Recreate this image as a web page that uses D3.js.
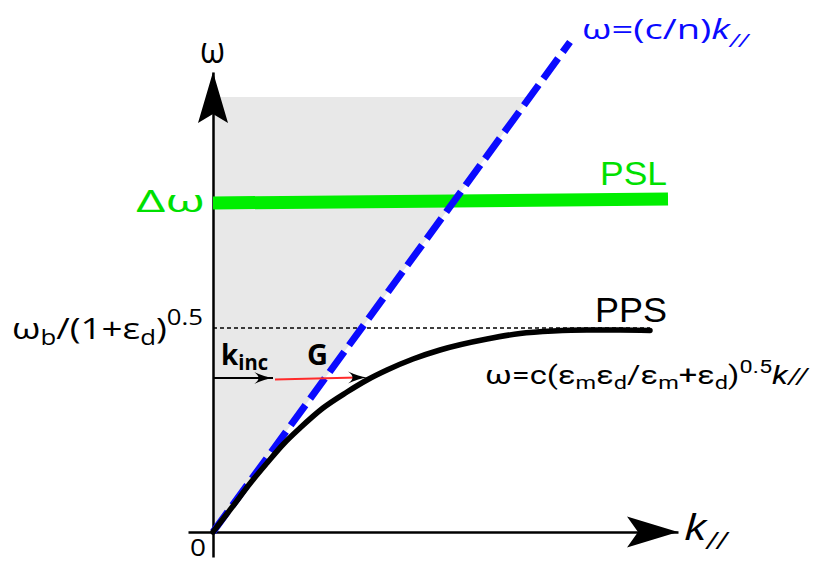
<!DOCTYPE html>
<html><head><meta charset="utf-8">
<script src="https://cdn.jsdelivr.net/npm/d3@7"></script>
<style>body{margin:0;background:#fff}svg{display:block}</style>
</head><body><svg id="c" width="816" height="563"></svg>
<script>
// ---- data (k in arbitrary units, omega in arbitrary units) ----
const ppsK = [0, 0.40, 0.74, 1.08, 1.40, 1.74, 2.20, 2.68, 3.08, 3.48, 4.00, 4.54, 5.48, 6.14, 6.80, 7.48, 8.14, 8.74];
const ppsW = [0, 0.52, 0.97, 1.38, 1.75, 2.08, 2.48, 2.80, 3.04, 3.24, 3.46, 3.64, 3.86, 3.97, 4.02, 4.04, 4.04, 4.03];
const lightK = [0, 7.14];
const lightW = [0, 9.80];
const pslK = [0, 9.10];
const pslW = [6.58, 6.66];
const asymK = [0, 8.74];
const asymW = [4.08, 4.08];
const coneTopW = 8.70;
const kincK = [0, 1.20];
const kincW = [3.08, 3.08];
const gK = [1.24, 3.08];
const gW = [3.05, 3.09];
const xAxisK = [-0.5, 9.3];
const yAxisW = [-0.5, 9.2];

const svg = d3.select("#c");
const x = d3.scaleLinear().domain([0, 10]).range([213, 713]);
const y = d3.scaleLinear().domain([0, 10]).range([532, 32]);
const line = d3.line().x(d => x(d[0])).y(d => y(d[1]));
const zip = (a, b) => a.map((v, i) => [v, b[i]]);

// light cone (gray)
const slope = lightW[1] / lightK[1];
svg.append("path")
  .attr("d", line([[0, 0], [0, coneTopW], [coneTopW / slope, coneTopW]]) + "Z")
  .attr("fill", "#e8e8e8");

// axes via d3 axis (no ticks)
const xa = x.copy().domain(xAxisK).range(xAxisK.map(x));
svg.append("g").attr("transform", `translate(0,${y(0)})`)
  .call(d3.axisBottom(xa).tickValues([]).tickSizeOuter(0))
  .select(".domain").attr("stroke", "#000").attr("stroke-width", 2.5);
const ya = y.copy().domain(yAxisW).range(yAxisW.map(y));
svg.append("g").attr("transform", `translate(${x(0)},0)`)
  .call(d3.axisLeft(ya).tickValues([]).tickSizeOuter(0))
  .select(".domain").attr("stroke", "#000").attr("stroke-width", 2.5);

// axis arrowheads
svg.append("path").attr("d", "M0,0 L-51,-15.5 L-40,0 L-51,15.5 Z")
  .attr("transform", `translate(${x(9.3)},${y(0)})`).attr("fill", "#000");
svg.append("path").attr("d", "M0,0 L-51,-15 L-42,0 L-51,15 Z")
  .attr("transform", `translate(${x(0)},${y(9.2)}) rotate(-90)`).attr("fill", "#000");

// asymptote dotted
svg.append("path").attr("d", line(zip(asymK, asymW)))
  .attr("stroke", "#000").attr("stroke-width", 1.6).attr("stroke-dasharray", "4,3").attr("fill", "none");

// PSL green band
svg.append("path").attr("d", line(zip(pslK, pslW)))
  .attr("stroke", "#00ee00").attr("stroke-width", 13).attr("fill", "none");

// light line (blue dashed)
svg.append("path").attr("d", line(zip(lightK, lightW)))
  .attr("stroke", "#0a0aff").attr("stroke-width", 7).attr("stroke-dasharray", "25,8").attr("fill", "none");

// PPS curve
svg.append("path").attr("d", d3.line().x(d => x(d[0])).y(d => y(d[1])).curve(d3.curveMonotoneX)(zip(ppsK, ppsW)))
  .attr("stroke", "#000").attr("stroke-width", 5.5).attr("stroke-linecap", "round").attr("fill", "none");

// k_inc arrow
svg.append("path").attr("d", line(zip(kincK, kincW)))
  .attr("stroke", "#000").attr("stroke-width", 2).attr("fill", "none");
const head = "M-19,-6 Q-8,-1 0,0 Q-8,1 -19,6 Q-10,0 -19,-6 Z";
svg.append("path").attr("d", head)
  .attr("transform", `translate(${x(kincK[1])},${y(kincW[1])})`).attr("fill", "#000");
// G arrow (red)
svg.append("path").attr("d", line([[gK[0], gW[0]], [gK[1] - 0.2, gW[1]]]))
  .attr("stroke", "#ff2a2a").attr("stroke-width", 2).attr("fill", "none");
svg.append("path").attr("d", head)
  .attr("transform", `translate(${x(gK[1])},${y(gW[1])})`).attr("fill", "#000");

// ---- texts ----
const T = (tx, ty, opts) => {
  const t = svg.append("text").attr("x", tx).attr("y", ty)
    .attr("font-family", opts.ff || "Open Sans").attr("font-size", opts.fs)
    .attr("fill", opts.fill || "#000").attr("text-anchor", opts.anchor || "start");
  if (opts.fw) t.attr("font-weight", opts.fw);
  if (opts.len) t.attr("textLength", opts.len).attr("lengthAdjust", "spacingAndGlyphs");
  return t;
};
const add = (t, s, o = {}) => {
  const ts = t.append("tspan").text(s);
  if (o.fs) ts.attr("font-size", o.fs);
  if (o.dy) ts.attr("dy", o.dy);
  if (o.it) ts.attr("font-style", "italic");
  return ts;
};

// omega axis label
T(200, 63, {fs: 37, len: 25}).text("ω");
// k// axis label
{
  const t = T(684, 540, {fs: 36, len: 43});
  add(t, "k", {it: 1});
  add(t, "//", {fs: 23, dy: 9, it: 1});
}
// 0
T(190, 556, {fs: 24, len: 16}).text("0");

// blue light line label
{
  const t = T(582, 39, {fs: 28, fill: "#0a0aff", len: 166});
  add(t, "ω=(c/n)");
  add(t, "k", {it: 1});
  add(t, "//", {fs: 19, dy: 8, it: 1});
}
// Δω
T(136, 212, {fs: 31, fill: "#00e000", len: 69}).text("Δω");
// PSL
T(600, 185, {fs: 33, fill: "#00e000", ff: "Liberation Sans", len: 67}).text("PSL");
// PPS
T(595, 322, {fs: 35, ff: "Liberation Sans", len: 72}).text("PPS");
// ω_b/(1+ε_d)^0.5
{
  const t = T(12, 339, {fs: 30, len: 191});
  add(t, "ω");
  add(t, "b", {fs: 21, dy: 6});
  add(t, "/(1+ε", {dy: -6});
  add(t, "d", {fs: 21, dy: 6});
  add(t, ")", {dy: -6});
  add(t, "0.5", {fs: 21, dy: -14});
}
// PPS dispersion equation
{
  const t = T(485, 384, {fs: 25, ff: "Roboto", len: 323});
  add(t, "ω=c(ε");
  add(t, "m", {fs: 18, dy: 5});
  add(t, "ε", {dy: -5});
  add(t, "d", {fs: 18, dy: 5});
  add(t, "/ε", {dy: -5});
  add(t, "m", {fs: 18, dy: 5});
  add(t, "+ε", {dy: -5});
  add(t, "d", {fs: 18, dy: 5});
  add(t, ")", {dy: -5});
  add(t, "0.5", {fs: 18, dy: -11});
  add(t, "k", {dy: 11, it: 1});
  add(t, "//", {fs: 22, it: 1});
}
// k_inc
{
  const t = T(221, 365, {fs: 29, fw: "bold", len: 47});
  add(t, "k");
  add(t, "inc", {fs: 21, dy: 5});
}
// G
T(307, 365, {fs: 28, fw: "bold", len: 21}).text("G");
</script>
</body></html>
